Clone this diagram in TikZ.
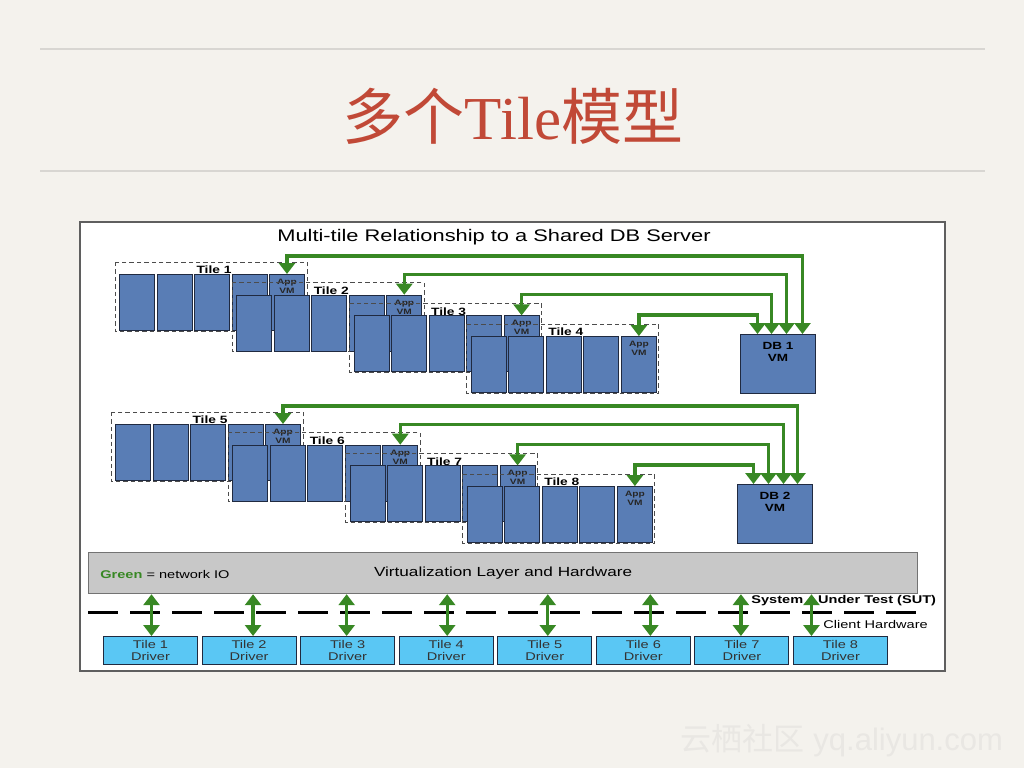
\documentclass[tikz,border=0pt]{standalone}
\usepackage{fontspec}
\setmainfont{Liberation Serif}
\newfontfamily\cjkfont{Noto Sans CJK SC}
\newfontfamily\plainsans{Liberation Sans}
\newfontfamily\diagfont{Liberation Sans}[FakeStretch=1.3]
\usetikzlibrary{arrows.meta,positioning}

\definecolor{slidebg}{RGB}{244,242,237}
\definecolor{rulegray}{RGB}{216,214,210}
\definecolor{titlered}{RGB}{193,73,55}
\definecolor{framegray}{RGB}{95,95,95}
\definecolor{vmblue}{RGB}{89,125,181}
\definecolor{vmedge}{RGB}{32,42,64}
\definecolor{iogreen}{RGB}{56,136,36}
\definecolor{layergray}{RGB}{200,200,200}
\definecolor{layeredge}{RGB}{115,115,115}
\definecolor{driverblue}{RGB}{90,199,244}
\definecolor{markgray}{RGB}{233,231,227}

\tikzset{
  tilebox/.style={draw=black!70, line width=0.5pt, dash pattern=on 2.2pt off 1.5pt},
  vmbox/.style={draw=vmedge, fill=vmblue, line width=0.5pt, inner sep=0pt,
    minimum width=17.5pt, minimum height=28pt, anchor=north west},
  dbbox/.style={vmbox, minimum width=37.5pt, minimum height=29.5pt},
  tilelabel/.style={font=\diagfont\bfseries\fontsize{5.3}{6}\selectfont, inner sep=0pt},
  appvm/.style={font=\diagfont\bfseries\fontsize{3.9}{4.5}\selectfont, text=black!85,
    align=center, inner sep=0pt},
  dbtext/.style={font=\diagfont\bfseries\fontsize{5.2}{6}\selectfont, align=center, inner sep=0pt},
  netio/.style={draw=iogreen, line width=1.7pt,
    {Triangle[length=5.5pt,width=8pt]}-{Triangle[length=5.5pt,width=8pt]}},
  layerbox/.style={draw=layeredge, fill=layergray, line width=0.6pt, anchor=north west,
    minimum width=414.5pt, minimum height=20.5pt, inner sep=0pt,
    font=\diagfont\fontsize{6.6}{8}\selectfont},
  driver/.style={draw=vmedge, fill=driverblue, line width=0.5pt, anchor=north west,
    minimum width=47pt, minimum height=14pt, inner sep=0pt, align=center,
    font=\diagfont\fontsize{5.6}{6}\selectfont, text=black!80},
  smalltext/.style={font=\diagfont\fontsize{5.6}{7}\selectfont, inner sep=0pt},
}

\begin{document}
\begin{tikzpicture}[x=0.5pt, y=-0.5pt, >=Stealth]

% ---------- slide ----------
\fill[slidebg] (0,0) rectangle (1024,768);
\draw[rulegray, line width=1pt] (40,49) -- (985,49);
\draw[rulegray, line width=1pt] (40,171) -- (985,171);
\node[text=titlered, font=\fontsize{30.5}{36}\selectfont] (title) at (513,116)
  {{\cjkfont 多个}Tile{\cjkfont 模型}};
\node[text=markgray, anchor=east, font=\plainsans\fontsize{15.5}{18}\selectfont] (mark) at (1010,741)
  {{\cjkfont 云栖社区} yq.aliyun.com};

% ---------- diagram frame ----------
\draw[framegray, fill=white, line width=0.6pt] (80,222) rectangle (945,671);
\node[font=\diagfont\fontsize{8.4}{10}\selectfont] (head) at (494,237)
  {Multi-tile Relationship to a Shared DB Server};

% ---------- tiles (two groups of four) ----------
\foreach \g/\gx/\gy in {0/0/0, 1/-4/150} {
  \foreach \k in {1,...,4} {
    \pgfmathtruncatemacro{\n}{4*\g+\k}
    \pgfmathsetmacro{\lx}{115+\gx+(\k-1)*117.3}
    \pgfmathsetmacro{\ty}{262+\gy+(\k-1)*20.7}
    \draw[tilebox] (\lx,\ty) rectangle ++(192,69);
    \node[tilelabel] (tl\n) at ({\lx+99},{\ty+8}) {Tile \n};
    \foreach \j in {1,...,4}
      \node[vmbox] (vm\n-\j) at ({\lx+4+(\j-1)*37.5},{\ty+12}) {};
    \node[vmbox] (app\n) at ({\lx+154},{\ty+12}) {};
    \node[appvm, below=2.3pt of app\n.north] (appt\n) {App\\VM};
  }
}

% ---------- database VMs ----------
\node[dbbox] (db1) at (740,334) {};
\node[dbtext, below=4pt of db1.north] (db1t) {DB 1\\VM};
\node[dbbox] (db2) at (737,484) {};
\node[dbtext, below=4pt of db2.north] (db2t) {DB 2\\VM};

% network IO between app VMs and db VMs
\foreach \n/\up/\dx in {1/18/12.25, 2/20/4.25, 3/21/-3.25, 4/21/-10.25}
  \draw[netio] (app\n.north) -- ++(0,-\up) -| ([xshift=\dx pt]db1.north);
\foreach \n/\up/\dx in {5/18/11.25, 6/20/4.25, 7/21/-3.25, 8/21/-10.75}
  \draw[netio] (app\n.north) -- ++(0,-\up) -| ([xshift=\dx pt]db2.north);

% ---------- virtualization layer ----------
\node[layerbox] (layer) at (88,552) {Virtualization Layer and Hardware};
\node[smalltext, anchor=west] (legend) at (100,574)
  {\textcolor{iogreen}{\bfseries Green} = network IO};

% ---------- SUT / client boundary ----------
\draw[black, line width=1.5pt, dash pattern=on 15pt off 6pt] (88,612) -- (917,612);
\node[smalltext, anchor=west, font=\diagfont\bfseries\fontsize{5.6}{7}\selectfont] (sut) at (751,601)
  {System\hspace{7.5pt}Under Test (SUT)};
\node[smalltext, anchor=west] (client) at (823,624) {Client Hardware};

% ---------- drivers ----------
\foreach \i in {1,...,8}
  \node[driver] (d\i) at ({103+(\i-1)*98.57},636) {Tile \i\\Driver};
\foreach \i/\dx in {1/0.5, 2/2, 3/-0.5, 4/0.5, 5/1.5, 6/3.5, 7/-0.5, 8/-14.5}
  \draw[netio] ([xshift=\dx pt]d\i.north) -- ([xshift=\dx pt]d\i.north |- layer.south);

\end{tikzpicture}
\end{document}
